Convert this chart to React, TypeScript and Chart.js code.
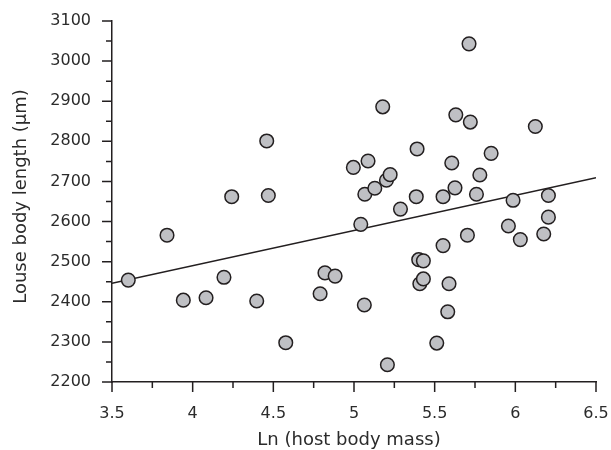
import React, { useEffect, useRef } from "react";
import { Chart, registerables } from "chart.js";

Chart.register(...registerables);

const hostMass: number[] = [
  3.601, 3.841, 3.942, 4.083, 4.194, 4.242, 4.397, 4.459, 4.469, 4.577,
  4.79, 4.82, 4.883, 4.996, 5.042, 5.064, 5.067, 5.087, 5.129, 5.178,
  5.201, 5.207, 5.224, 5.288, 5.386, 5.391, 5.401, 5.408, 5.43, 5.43,
  5.513, 5.552, 5.552, 5.581, 5.589, 5.606, 5.626, 5.631, 5.703, 5.713,
  5.721, 5.759, 5.78, 5.85, 5.957, 5.986, 6.031, 6.124, 6.176, 6.205, 6.205,
];
const louseLength: number[] = [
  2454, 2566, 2404, 2410, 2461, 2662, 2402, 2801, 2665, 2298,
  2420, 2472, 2464, 2735, 2593, 2392, 2668, 2751, 2683, 2886,
  2703, 2243, 2717, 2631, 2662, 2781, 2505, 2445, 2502, 2457,
  2297, 2662, 2540, 2375, 2445, 2746, 2684, 2866, 2566, 3043,
  2848, 2668, 2716, 2770, 2589, 2653, 2555, 2837, 2569, 2665, 2611,
];
const fitX: number[] = [3.5, 6.5];
const fitY: number[] = [2446, 2709];

const xTitle = "Ln (host body mass)";
const yTitle = "Louse body length (μm)";
const FONT = "'DejaVu Sans', sans-serif";
const INK = "#231f20";
const TEXT = "#2b2b2b";

const ticksAndTitles = {
  id: "ticksAndTitles",
  afterDraw(chart: any) {
    const { ctx, chartArea, scales } = chart;
    const xs = scales.x;
    const ys = scales.y;
    ctx.save();
    ctx.strokeStyle = INK;
    ctx.lineWidth = 1.5;
    ctx.beginPath();
    for (let v = 3.5; v <= 6.5001; v += 0.25) {
      const px = xs.getPixelForValue(v);
      const major = Math.abs(v * 2 - Math.round(v * 2)) < 1e-6;
      ctx.moveTo(px, chartArea.bottom);
      ctx.lineTo(px, chartArea.bottom + (major ? 10 : 6));
    }
    for (let v = 2200; v <= 3100; v += 50) {
      const py = ys.getPixelForValue(v);
      const major = v % 100 === 0;
      ctx.moveTo(chartArea.left, py);
      ctx.lineTo(chartArea.left - (major ? 10 : 6), py);
    }
    ctx.stroke();

    ctx.fillStyle = TEXT;
    ctx.font = `18px ${FONT}`;
    ctx.textAlign = "center";
    ctx.textBaseline = "alphabetic";
    ctx.fillText(xTitle, (chartArea.left + chartArea.right) / 2 - 5, 445);
    ctx.save();
    ctx.translate(26, (chartArea.top + chartArea.bottom) / 2 - 5);
    ctx.rotate(-Math.PI / 2);
    ctx.fillText(yTitle, 0, 0);
    ctx.restore();
    ctx.restore();
  },
};

export default function App() {
  const ref = useRef<HTMLCanvasElement | null>(null);
  useEffect(() => {
    document.body.style.margin = "0";
    if (!ref.current) return;
    const points = hostMass.map((x, i) => ({ x, y: louseLength[i] }));
    const line = fitX.map((x, i) => ({ x, y: fitY[i] }));
    const chart = new Chart(ref.current, {
      type: "scatter",
      data: {
        datasets: [
          {
            data: points,
            backgroundColor: "#bfc0c4",
            borderColor: INK,
            borderWidth: 1.5,
            pointRadius: 6.8,
            order: 0,
          },
          {
            type: "line",
            data: line,
            borderColor: INK,
            borderWidth: 1.5,
            pointRadius: 0,
            fill: false,
            order: 1,
          } as any,
        ],
      },
      options: {
        responsive: false,
        animation: false,
        layout: { padding: { top: 21, right: 15, left: 0, bottom: 0 } },
        plugins: { legend: { display: false }, tooltip: { enabled: false } },
        scales: {
          x: {
            type: "linear",
            min: 3.5,
            max: 6.5,
            grid: { display: false, drawTicks: false },
            border: { display: true, color: INK, width: 1.5 },
            ticks: {
              stepSize: 0.5,
              padding: 22,
              color: TEXT,
              font: { family: FONT, size: 16 },
              callback: (v: any) => String(Math.round(Number(v) * 10) / 10),
            },
            afterFit: (s: any) => {
              s.height = 68;
              s.paddingLeft = 0;
              s.paddingRight = 0;
            },
          },
          y: {
            type: "linear",
            min: 2200,
            max: 3100,
            grid: { display: false, drawTicks: false },
            border: { display: true, color: INK, width: 1.5 },
            ticks: {
              stepSize: 100,
              padding: 21,
              color: TEXT,
              font: { family: FONT, size: 16 },
              callback: (v: any) => String(v),
            },
            afterFit: (s: any) => {
              s.width = 112;
              s.paddingTop = 0;
              s.paddingBottom = 0;
            },
          },
        },
      },
      plugins: [ticksAndTitles],
    });
    return () => chart.destroy();
  }, []);
  return (
    <div style={{ width: 611, height: 450 }}>
      <canvas ref={ref} width={611} height={450} />
    </div>
  );
}
